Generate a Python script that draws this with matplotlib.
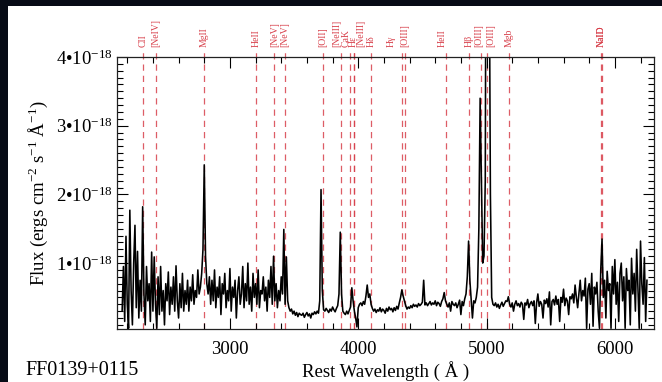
"""Rest-frame spectrum of FF0139+0115 with the usual emission/absorption
features marked as dashed red lines."""

import numpy as np
import matplotlib

matplotlib.use("Agg")
import matplotlib.pyplot as plt
import matplotlib.transforms as mtransforms
from matplotlib.patches import Rectangle
from matplotlib.ticker import FuncFormatter, MultipleLocator

OUT_PATH = "out.png"

# flux in units of 1e-18 erg/cm^2/s/A, sampled every 10 A from 2160 A
WAVE_START = 2160
WAVE_STEP = 10
FLUX = [
    0.30, 0.95, 0.15, 1.39, 0.40, 0.05, 1.77, 0.60, 0.10, 1.00,  # 2160
    1.55, 0.35, 1.17, 0.20, 0.75, 0.30, 1.82, 0.55, 0.10, 0.95,  # 2260
    0.45, 0.70, 0.15, 1.16, 0.30, 1.09, 0.40, 0.05, 0.80, 0.25,  # 2360
    0.95, 0.30, 0.60, 0.10, 0.70, 0.45, 0.87, 0.25, 0.65, 0.40,  # 2460
    0.80, 0.30, 0.96, 0.45, 0.20, 0.70, 0.35, 0.85, 0.30, 0.60,  # 2560
    0.40, 0.75, 0.30, 0.65, 0.45, 0.83, 0.40, 0.60, 0.50, 0.90,  # 2660
    0.55, 0.65, 0.85, 1.20, 2.43, 1.10, 0.70, 0.55, 0.80, 0.40,  # 2760
    0.75, 0.45, 0.90, 0.35, 0.65, 0.50, 0.80, 0.25, 0.70, 0.55,  # 2860
    0.85, 0.35, 0.60, 0.45, 0.92, 0.30, 0.65, 0.50, 0.75, 0.20,  # 2960
    0.60, 0.80, 0.40, 0.55, 0.95, 0.35, 0.70, 0.45, 1.00, 0.40,  # 3060
    0.65, 0.30, 0.85, 0.50, 0.70, 0.40, 0.90, 0.35, 0.60, 0.55,  # 3160
    0.80, 0.45, 0.65, 0.30, 0.75, 0.50, 0.95, 0.40, 1.10, 0.45,  # 3260
    0.70, 0.35, 0.60, 0.45, 0.80, 0.55, 1.49, 0.40, 1.09, 0.45,  # 3360
    0.35, 0.30, 0.33, 0.26, 0.30, 0.24, 0.28, 0.22, 0.27, 0.25,  # 3460
    0.24, 0.27, 0.21, 0.25, 0.28, 0.23, 0.26, 0.20, 0.27, 0.25,  # 3560
    0.29, 0.26, 0.30, 0.27, 0.45, 2.07, 0.60, 0.32, 0.30, 0.34,  # 3660
    0.31, 0.28, 0.33, 0.30, 0.36, 0.32, 0.29, 0.34, 0.38, 0.55,  # 3760
    1.45, 0.55, 0.30, 0.27, 0.25, 0.30, 0.26, 0.31, 0.36, 0.64,  # 3860
    0.45, 0.30, 0.20, 0.07, 0.35, 0.40, 0.42, 0.38, 0.44, 0.40,  # 3960
    0.52, 0.68, 0.50, 0.55, 0.40, 0.34, 0.30, 0.33, 0.28, 0.32,  # 4060
    0.30, 0.35, 0.29, 0.33, 0.31, 0.27, 0.34, 0.30, 0.36, 0.32,  # 4160
    0.34, 0.29, 0.35, 0.31, 0.37, 0.33, 0.42, 0.50, 0.61, 0.52,  # 4260
    0.45, 0.38, 0.33, 0.36, 0.34, 0.38, 0.35, 0.40, 0.37, 0.39,  # 4360
    0.36, 0.41, 0.38, 0.40, 0.43, 0.75, 0.39, 0.42, 0.38, 0.41,  # 4460
    0.44, 0.39, 0.42, 0.40, 0.45, 0.38, 0.43, 0.41, 0.37, 0.44,  # 4560
    0.48, 0.57, 0.45, 0.40, 0.36, 0.42, 0.30, 0.44, 0.40, 0.38,  # 4660
    0.42, 0.35, 0.40, 0.46, 0.25, 0.44, 0.38, 0.48, 0.55, 0.80,  # 4760
    1.32, 0.75, 0.48, 0.20, 0.45, 0.42, 0.50, 0.65, 1.50, 3.40,  # 4860
    2.20, 1.00, 1.10, 2.20, 9.00, 12.0, 6.00, 2.00, 0.50, 0.40,  # 4960
    0.38, 0.42, 0.36, 0.40, 0.34, 0.39, 0.43, 0.37, 0.41, 0.45,  # 5060
    0.44, 0.51, 0.40, 0.36, 0.42, 0.30, 0.40, 0.45, 0.38, 0.41,  # 5160
    0.36, 0.43, 0.40, 0.18, 0.42, 0.39, 0.47, 0.35, 0.41, 0.44,  # 5260
    0.38, 0.45, 0.12, 0.42, 0.55, 0.37, 0.44, 0.40, 0.20, 0.46,  # 5360
    0.41, 0.48, 0.36, 0.58, 0.10, 0.44, 0.47, 0.39, 0.52, 0.40,  # 5460
    0.47, 0.15, 0.50, 0.43, 0.62, 0.38, 0.49, 0.45, 0.25, 0.51,  # 5560
    0.48, 0.55, 0.42, 0.68, 0.50, 0.35, 0.56, 0.75, 0.45, 0.60,  # 5660
    0.52, 0.78, 0.05, 0.62, 0.70, 0.40, 0.85, 0.08, 0.65, 0.55,  # 5760
    0.72, 0.30, 0.05, 0.90, 1.35, 0.50, 0.75, 0.20, 0.88, 0.60,  # 5860
    0.70, 0.05, 0.95, 0.55, 1.05, 0.40, 0.72, 0.15, 0.85, 1.00,  # 5960
    0.45, 0.80, 0.05, 0.92, 0.60, 0.75, 0.10, 1.07, 0.55, 0.85,  # 6060
    0.30, 1.20, 0.60, 0.05, 1.32, 0.70, 0.40, 1.08, 0.15, 0.75,  # 6160
]

LINE_WAVE = [2326, 2424, 2798, 3203, 3346, 3426, 3727, 3869, 3934, 3970,
             3968, 4102, 4340, 4363, 4686, 4861, 4959, 5007, 5175, 5890, 5896]
LINE_NAME = ["CII", "[NeIV]", "MgII", "HeII", "[NeV]", "[NeV]", "[OII]",
             "[NeIII]", "CaK", "Hε", "[NeIII]", "Hδ", "Hγ", "[OIII]", "HeII",
             "Hβ", "[OIII]", "[OIII]", "Mgb", "NaID", "NaID"]

# sideways nudges (pixels) so crowded labels stay readable
LABEL_NUDGE = {7: -5, 8: -4, 9: -1, 10: 7, 12: -11, 14: -4, 16: -3, 17: 3}

RED = "#d8404b"
SERIF = ["Liberation Serif", "DejaVu Serif"]

plt.rcParams["font.family"] = SERIF
plt.rcParams["mathtext.fontset"] = "custom"
plt.rcParams["mathtext.rm"] = "Liberation Serif"
plt.rcParams["mathtext.it"] = "Liberation Serif:italic"


def main():
    flux = np.array(FLUX)
    wave = WAVE_START + WAVE_STEP * np.arange(len(flux))

    fig = plt.figure(figsize=(6.62, 3.82), dpi=100, facecolor="#070b16")
    fig.patches.append(Rectangle((8 / 662, 0), 1, 376 / 382, transform=fig.transFigure,
                                 facecolor="white", edgecolor="none", zorder=-1))

    ax = fig.add_axes([117 / 662, 53 / 382, 537 / 662, 272 / 382])
    ax.set_facecolor("white")

    xax = ax.get_xaxis_transform()
    for i, (lw, name) in enumerate(zip(LINE_WAVE, LINE_NAME)):
        ax.plot([lw, lw], [0, 1.02], transform=xax, color=RED, lw=0.9,
                dashes=(5, 4), alpha=0.85, clip_on=False, zorder=1)
        off = mtransforms.offset_copy(xax, fig=fig, x=LABEL_NUDGE.get(i, 0), y=0,
                                      units="dots")
        ax.text(lw, 1.035, name, transform=off, rotation=90, ha="center",
                va="bottom", color=RED, fontsize=7)

    ax.plot(wave, flux, color="black", lw=1.15, zorder=2)

    ax.set_xlim(2120, 6305)
    ax.set_ylim(0.04, 4.0)

    ax.xaxis.set_major_locator(MultipleLocator(1000))
    ax.xaxis.set_minor_locator(MultipleLocator(200))
    ax.yaxis.set_major_locator(MultipleLocator(1))
    ax.yaxis.set_minor_locator(MultipleLocator(0.1))
    ax.yaxis.set_major_formatter(FuncFormatter(lambda v, p: f"{int(v)}•10$^{{-18}}$"))

    ax.tick_params(which="both", direction="in", top=True, right=True,
                   labelsize=13.5, width=0.8)
    ax.tick_params(which="major", length=8)
    ax.tick_params(which="minor", length=4)
    ax.tick_params(axis="x", which="major", pad=9)
    ax.tick_params(axis="y", which="major", pad=3)
    for sp in ax.spines.values():
        sp.set_linewidth(0.9)
        sp.set_color("#222222")

    ax.set_xlabel("Rest Wavelength ( Å )", fontsize=13.5, labelpad=2)
    ax.set_ylabel("Flux (ergs cm$^{-2}$ s$^{-1}$ Å$^{-1}$)", fontsize=13.5, labelpad=4)

    fig.text(25 / 662, 2 / 382, "FF0139+0115", fontsize=14.5, ha="left", va="bottom")

    fig.savefig(OUT_PATH, dpi=100, facecolor=fig.get_facecolor())


if __name__ == "__main__":
    main()
